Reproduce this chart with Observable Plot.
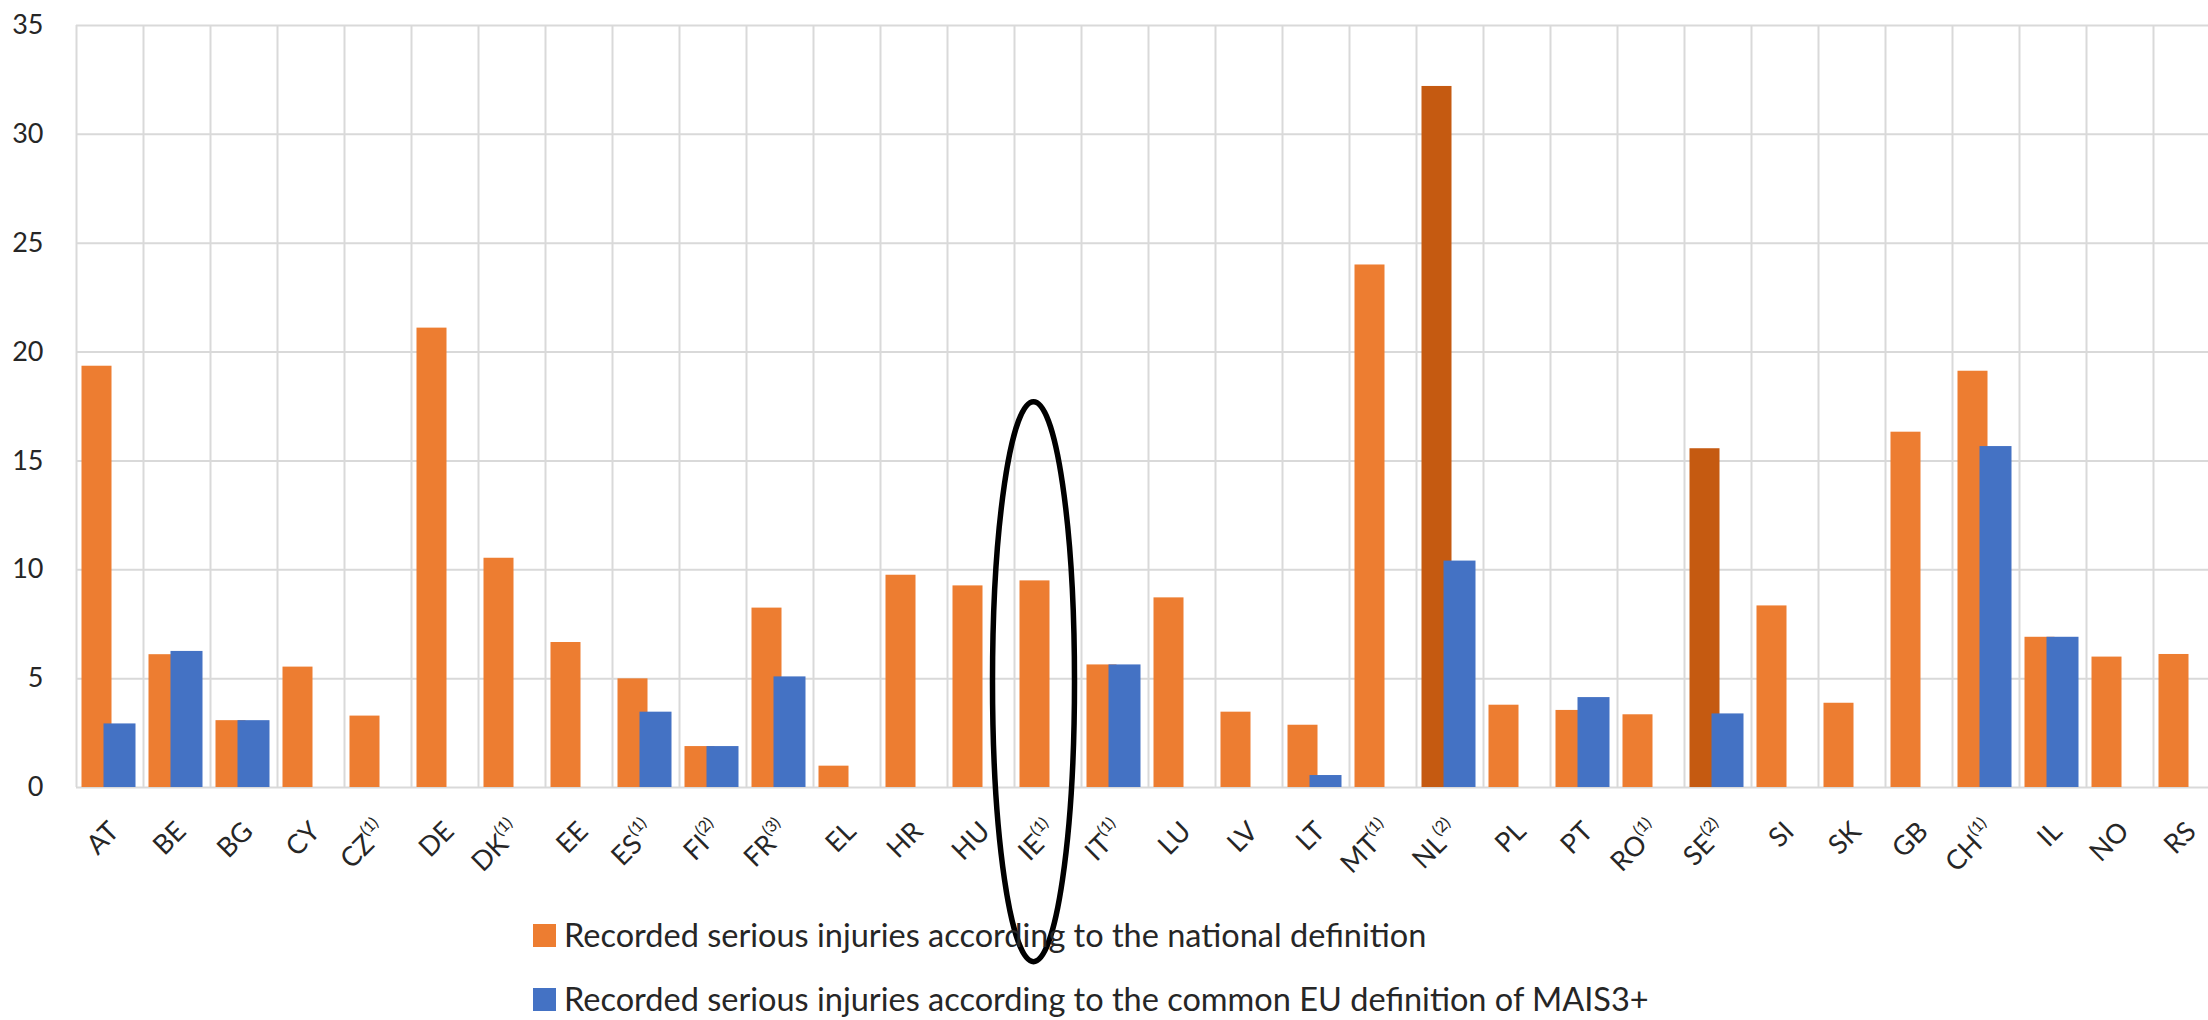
<!DOCTYPE html>
<html><head><meta charset="utf-8">
<script src="https://cdn.jsdelivr.net/npm/d3@7"></script>
<script src="https://cdn.jsdelivr.net/npm/@observablehq/plot@0.6"></script>
<style>
html,body{margin:0;padding:0;background:#fff;overflow:hidden;}
#wrap{position:relative;width:2208px;height:1020px;font-family:Lato,"Open Sans",sans-serif;}
#chart svg{overflow:visible;}
.leg{position:absolute;left:533px;display:flex;align-items:center;font-size:32.5px;line-height:40px;color:#262626;white-space:nowrap;}
.sw{width:23px;height:23px;margin-right:8px;flex:none;}
</style></head><body><div id="wrap"><div id="chart"></div></div>
<script>
const countries = ["AT","BE","BG","CY","CZ","DE","DK","EE","ES","FI","FR","EL","HR","HU","IE","IT","LU","LV","LT","MT","NL","PL","PT","RO","SE","SI","SK","GB","CH","IL","NO","RS"];
const notes     = ["","","","","1","","1","","1","2","3","","","","1","1","","","","1","2","","","1","2","","","","1","","",""];
const national  = [19.35,6.1,3.07,5.53,3.28,21.1,10.53,6.66,4.99,1.88,8.24,0.98,9.75,9.26,9.49,5.63,8.71,3.46,2.86,24.0,32.2,3.78,3.54,3.34,15.56,8.34,3.87,16.32,19.12,6.9,5.99,6.11];
const euMais3   = [2.92,6.25,3.07,null,null,null,null,null,3.46,1.88,5.08,null,null,null,null,5.63,null,null,0.55,null,10.4,null,4.13,null,3.38,null,null,null,15.66,6.9,null,null];
const darkNational = ["NL","SE"];
const yTicks = [0,5,10,15,20,25,30,35];
const seriesNames = ["Recorded serious injuries according to the national definition","Recorded serious injuries according to the common EU definition of MAIS3+"];
const highlight = {country: "IE", top: 17.7};

const colors = {national: "#ED7D31", nationalDark: "#C55A11", eu: "#4472C4", grid: "#D9D9D9", text: "#262626"};

const natData = countries.map((c, i) => ({country: c, value: national[i]}));
const euData = countries.map((c, i) => ({country: c, value: euMais3[i]})).filter(d => d.value != null);

const W = 2208, H = 895, mL = 76, mT = 25, mB = 108, bw = 67;

const plot = Plot.plot({
  width: W, height: H,
  marginTop: mT, marginBottom: mB, marginLeft: mL, marginRight: 0,
  x: {domain: countries, range: [mL, mL + bw * countries.length], padding: 0, axis: null},
  y: {domain: [0, 35], axis: null, label: null},
  style: {fontFamily: "Lato, 'Open Sans', sans-serif", background: "white", color: colors.text},
  marks: [
    Plot.ruleY(yTicks, {stroke: colors.grid, strokeWidth: 2}),
    Plot.ruleX(countries, {x: d => d, dx: -bw / 2, y1: 0, y2: 35, stroke: colors.grid, strokeWidth: 2}),
    Plot.barY(natData, {x: "country", y: "value", fill: d => darkNational.includes(d.country) ? colors.nationalDark : colors.national, insetLeft: 5.5, insetRight: 31.5}),
    Plot.barY(euData, {x: "country", y: "value", fill: colors.eu, insetLeft: 27.5, insetRight: 7.5}),
    Plot.axisY({ticks: yTicks, tickSize: 0, tickPadding: 33, fontSize: 27, label: null, tickFormat: d => d}),
    Plot.text(countries, {x: d => d, frameAnchor: "bottom", text: d => d, rotate: -45, textAnchor: "end", lineAnchor: "top", dx: -3, dy: 32, fontSize: 27})
  ]
});

document.getElementById("chart").appendChild(plot);

// superscript notes on the country labels
plot.querySelectorAll('g[aria-label="text"] text').forEach(t => {
  const i = countries.indexOf(t.textContent);
  if (i >= 0 && notes[i]) {
    const ts = document.createElementNS("http://www.w3.org/2000/svg", "tspan");
    ts.setAttribute("font-size", "0.6em");
    ts.setAttribute("dy", "-0.8em");
    ts.textContent = "(" + notes[i] + ")";
    t.appendChild(ts);
  }
});

// highlight ellipse around IE
{
  const xs = plot.scale("x"), ys = plot.scale("y");
  const cx = xs.apply(highlight.country) + bw / 2 - 14;
  const top = ys.apply(highlight.top);
  const bottom = top + 560;
  const e = document.createElementNS("http://www.w3.org/2000/svg", "ellipse");
  e.setAttribute("cx", cx);
  e.setAttribute("cy", (top + bottom) / 2);
  e.setAttribute("rx", 41);
  e.setAttribute("ry", (bottom - top) / 2);
  e.setAttribute("fill", "none");
  e.setAttribute("stroke", "#000");
  e.setAttribute("stroke-width", 5.5);
  plot.appendChild(e);
}

// legend
const wrap = document.getElementById("wrap");
[[seriesNames[0], colors.national, 935], [seriesNames[1], colors.eu, 999]].forEach(([label, col, cy]) => {
  const row = document.createElement("div");
  row.className = "leg";
  row.style.top = (cy - 20) + "px";
  const sw = document.createElement("span");
  sw.className = "sw";
  sw.style.background = col;
  const tx = document.createElement("span");
  tx.textContent = label;
  row.appendChild(sw); row.appendChild(tx);
  wrap.appendChild(row);
});
</script>
</body></html>
